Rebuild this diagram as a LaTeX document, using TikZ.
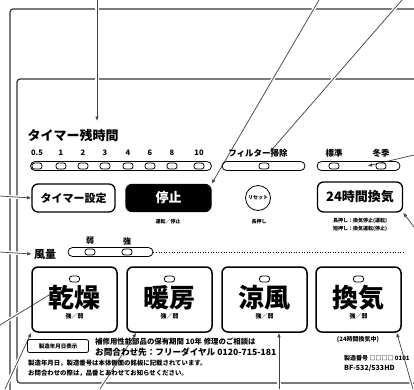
\documentclass[tikz,border=0pt]{standalone}
\usepackage{fontspec}
\newfontfamily\jp{Noto Sans CJK JP}
\usetikzlibrary{arrows.meta,backgrounds}
\begin{document}
\begin{tikzpicture}[x=1pt,y=-1pt,
  frame/.style={draw=black!80,line width=1.2pt,rounded corners=3pt},
  leader/.style={draw=black!75,line width=0.7pt,-{Latex[length=4.5pt,width=3.5pt]},
     preaction={draw=white,line width=3.5pt,-}},
  lbl/.style={font=\jp\bfseries\fontsize{#1}{#1}\selectfont,inner sep=0pt},
  led/.style={draw,line width=0.8pt,rounded corners=2.5pt,minimum width=10pt,minimum height=6pt,inner sep=0pt,fill=white},
  bar/.style={draw,line width=0.8pt,rounded corners=4.5pt,minimum height=9pt,minimum width=#1,inner sep=0pt},
  btn/.style={draw,line width=1.5pt,rounded corners=6pt,minimum width=85pt,minimum height=65pt,inner sep=0pt},
  sbtn/.style={draw,line width=1.3pt,rounded corners=6pt,inner sep=0pt},
]
\useasboundingbox (0,0) rectangle (414,389);

% ---- timer remaining
\node[lbl=13] (timerlbl) at (73,135) {タイマー残時間};
\node[bar=181pt] (tbar) at (121,166) {};
\foreach \x/\t [count=\i] in {37/0.5,61/1,83/2,105/3,128/4,150/6,172/8,199/10}{
  \node[lbl=7.5] (n\i) at (\x,153) {\t};
  \node[led] (tl\i) at (\x,166) {};
}
% ---- filter
\node[lbl=8.5] (filterlbl) at (258,153) {フィルター掃除};
\node[bar=83pt] (fbar) at (263.5,166) {};
\node[led] (fled) at (264,166) {};
\node[lbl=8.5] (std) at (334,153) {標準};
\node[lbl=8.5] (win) at (381,153) {冬季};
\node[bar=83pt] (sbar) at (358.5,166) {};
\node[led] (sled1) at (334,166) {};
\node[led] (sled2) at (381,166) {};

% ---- control row
\node[sbtn,minimum width=83pt,minimum height=28pt,lbl=11] (timerset) at (73.5,198) {タイマー設定};
\node[sbtn,fill=black,text=white,minimum width=85pt,minimum height=27pt,lbl=13] (stop) at (168.5,198) {停止};
\node[lbl=5] (stopsub) at (168,222) {運転／停止};
\node[draw,circle,line width=0.8pt,minimum size=25pt,inner sep=0pt,lbl=5] (reset) at (258,198) {リセット};
\node[lbl=5] (resetsub) at (259,222) {長押し};
\node[sbtn,minimum width=85pt,minimum height=30pt,lbl=13] (h24) at (360,197) {24時間換気};
\node[lbl=5] (h24a) at (360,221) {長押し：換気停止(運転)};
\node[lbl=5] (h24b) at (360,229) {短押し：換気運転(停止)};

% ---- air volume
\node[lbl=11] (furyo) at (45,254) {風量};
\node[lbl=8] (weak) at (90,241) {弱};
\node[lbl=8] (strong) at (127,241) {強};
\node[bar=85pt] (wbar) at (110.5,252) {};
\node[led] (wl1) at (90,252) {};
\node[led] (wl2) at (127,252) {};
\coordinate (dotend) at (404,252);
\draw[dotted,line width=0.6pt] (wbar.east) -- (dotend);

% ---- big buttons
\foreach \x/\t [count=\i] in {74.5/乾燥,169.5/暖房,264.5/涼風,358.5/換気}{
  \node[btn] (b\i) at (\x,299.5) {};
  \node[led] (bl\i) at (\x,279) {};
  \node[lbl=26] (bt\i) at (\x,298) {\t};
  \node[lbl=6] (bs\i) at (\x,316) {強／弱};
}
\node[lbl=6] (kanki) at (358,340) {(24時間換気中)};

% ---- bottom text
\node[draw,line width=0.8pt,rounded corners=2pt,minimum width=61pt,minimum height=13pt,inner sep=0pt,lbl=5.5] (datebox) at (58,346) {製造年月日表示};
\node[lbl=7.4,anchor=west] (t1) at (95,342) {補修用性能部品の保有期間 10年 修理のご相談は};
\node[lbl=8.6,anchor=west] (t2) at (95,352) {お問合わせ先：フリーダイヤル 0120-715-181};
\node[lbl=6.4,anchor=west] (t3) at (28,363) {製造年月日，製造番号は本体側面の銘板に記載されています。};
\node[lbl=6.4,anchor=west] (t4) at (28,373) {お問合わせの際は，品番とあわせてお知らせください。};
\node[lbl=6,anchor=west] (m1) at (344,358) {製造番号 □□□□ 0101};
\node[lbl=7,anchor=west] (m2) at (344,368) {BF-532/533HD};

% ---- coordinates of free ends
\coordinate (e1) at (97,0);
\coordinate (e2) at (319,0);
\coordinate (e3) at (402,0);
\coordinate (e4) at (414,155);
\coordinate (e5) at (414,227);
\coordinate (e6) at (0,196);
\coordinate (e7) at (0,252);
\coordinate (e8) at (0,325);
\coordinate (e9) at (5,389);
\coordinate (e10) at (100,389);
\coordinate (e11) at (279,389);
\coordinate (e12) at (413,389);

\begin{scope}[on background layer]
\draw[frame] (414,9) -- (10,9) -- (10,395);
\draw[frame] (414,79) -- (17,79) -- (17,383) -- (420,383);
\draw[leader] (e1) -- (97,121);
\draw[leader] (e2) -- (stop.north east);
\draw[leader] (e3) -- ([xshift=12pt,yshift=-3pt]filterlbl.north);
\draw[leader] (e4) -- ([xshift=-8pt]sled2.west);
\draw[leader] (e5) -- (h24.south east);
\draw[leader] (e6) -- (timerset.west);
\draw[leader] (e7) -- ([xshift=-2pt]furyo.west);
\draw[leader] (e8) -- ([shift={(-6pt,-4pt)}]bl1.south west);
\draw[leader] (e9) -- (b1.south west);
\draw[leader] (e10) -- ([xshift=10pt]b2.south west);
\draw[leader] (e11) -- (b3.south -| e11);
\draw[leader] (e12) -- ([xshift=-5pt]b4.south east);
\end{scope}
\end{tikzpicture}
\end{document}
